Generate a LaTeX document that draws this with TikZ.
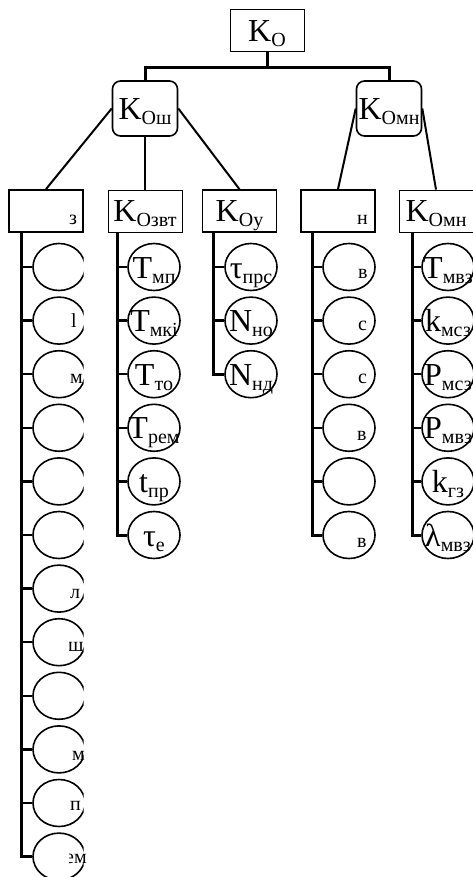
\documentclass[tikz,border=0pt]{standalone}
\usepackage{fontspec}
\setmainfont{Liberation Serif}
\usetikzlibrary{shapes.geometric}
% lowered, smaller index text
\newcommand\sbt[1]{\raisebox{-5pt}{\fontsize{20}{20}\selectfont #1}}
\begin{document}
\begin{tikzpicture}[x=1pt,y=-1pt,
  every node/.style={font=\fontsize{32}{32}\selectfont, inner sep=0pt},
  topbox/.style={draw, line width=1pt, minimum width=74pt, minimum height=42pt, text height=22pt, text depth=0pt},
  midbox/.style={draw, rounded corners=8pt, line width=1.6pt, minimum width=65pt, minimum height=55pt, text height=22pt, text depth=0pt},
  grpbox/.style={draw, minimum width=74pt, minimum height=42pt, text height=22pt, text depth=0pt},
  ell/.style={draw, ellipse, line width=1.6pt, minimum width=52pt, minimum height=47pt},
  lbl/.style={text height=22pt, text depth=0pt},
  frag/.style={font=\fontsize{20}{20}\selectfont, anchor=base west},
  trunk/.style={line width=3pt},
  branch/.style={line width=2pt},
  stem/.style={line width=2.5pt}]
\useasboundingbox (0,0) rectangle (473,877);

% top levels
\node[topbox] (ko) at (267,31) {K\sbt{O}};
\node[midbox] (kosh) at (145,108.5) {K\sbt{Ош}};
\node[midbox] (komn) at (389,108.5) {K\sbt{Омн}};
\coordinate (hub) at (267,68);
\draw[trunk] (ko.south) -- (hub);
\draw[trunk] (kosh.north) -- (kosh.north |- hub) -- (komn.north |- hub) -- (komn.north);

% group boxes
\node[grpbox, line width=1.8pt] (b1) at (46,211) {};
\node[frag] (b1t) at (69,225) {з};
\node[grpbox, line width=0.8pt] (b2) at (145,211) {K\sbt{Озвт}};
\node[grpbox, line width=1.5pt] (b3) at (239.5,211) {K\sbt{Оу}};
\node[grpbox, line width=1.8pt] (b4) at (338,211) {};
\node[frag] (b4t) at (357,225) {н};
\node[grpbox, line width=0.8pt] (b5) at (436,211) {K\sbt{Омн}};

\draw[branch] (kosh.west) -- (b1.north);
\draw[branch] (kosh.south) -- (b2.north);
\draw[branch] (kosh.east) -- (b3.north);
\draw[branch] (komn.west) -- (b4.north);
\draw[branch] (komn.east) -- (b5.north);

% column 1
\begin{scope}
  \clip (0,240) rectangle (83.5,880);
  \foreach \i in {1,...,12} \node[ell] (c1e\i) at (59,{267+53.6*(\i-1)}) {};
\end{scope}
\coordinate (s1) at (21,232);
\draw[trunk] (s1) |- (c1e12.west);
\foreach \i in {1,...,11} \draw[stem] (s1 |- c1e\i.west) -- (c1e\i.west);
\begin{scope}
  \clip (69.5,240) rectangle (95,880);
  \node[frag] (f2) at (71,327) {l};
  \node[frag] (f3) at (70,383) {м};
  \node[frag] (f7) at (70,598) {л};
  \node[frag] (f8) at (68,651) {ш};
  \node[frag] (f10) at (72,760) {м};
  \node[frag] (f11) at (70,810) {п};
  \node[frag] (f12) at (65,863) {ем};
\end{scope}

% column 2
\foreach \i in {1,...,6} \node[ell] (c2e\i) at (154,{267+53.6*(\i-1)}) {};
\coordinate (s2) at (117,232);
\draw[trunk] (s2) |- (c2e6.west);
\foreach \i in {1,...,5} \draw[stem] (s2 |- c2e\i.west) -- (c2e\i.west);
\node[lbl] (c2t1) at (c2e1) {T\sbt{мп}};
\node[lbl] (c2t2) at (c2e2) {T\sbt{мкі}};
\node[lbl] (c2t3) at (c2e3) {T\sbt{то}};
\node[lbl] (c2t4) at (c2e4) {T\sbt{рем}};
\node[lbl] (c2t5) at (c2e5) {t\sbt{пр}};
\node[lbl] (c2t6) at (c2e6) {τ\sbt{е}};

% column 3
\foreach \i in {1,...,3} \node[ell] (c3e\i) at (251,{267+53.6*(\i-1)}) {};
\coordinate (s3) at (213,232);
\draw[trunk] (s3) |- (c3e3.west);
\foreach \i in {1,2} \draw[stem] (s3 |- c3e\i.west) -- (c3e\i.west);
\node[lbl] (c3t1) at (c3e1) {τ\sbt{прс}};
\node[lbl] (c3t2) at (c3e2) {N\sbt{но}};
\node[lbl] (c3t3) at (c3e3) {N\sbt{нд}};

% column 4
\foreach \i in {1,...,6} \node[ell] (c4e\i) at (349,{267+53.6*(\i-1)}) {};
\coordinate (s4) at (312,232);
\draw[trunk] (s4) |- (c4e6.west);
\foreach \i in {1,...,5} \draw[stem] (s4 |- c4e\i.west) -- (c4e\i.west);
\node[frag] (g1) at (358,278) {в};
\node[frag] (g2) at (358,330) {с};
\node[frag] (g3) at (358,383) {с};
\node[frag] (g4) at (357,440) {в};
\node[frag] (g6) at (357,547) {в};

% column 5
\foreach \i in {1,...,6} \node[ell] (c5e\i) at (448,{267+53.6*(\i-1)}) {};
\coordinate (s5) at (412,232);
\draw[trunk] (s5) |- (c5e6.west);
\foreach \i in {1,...,5} \draw[stem] (s5 |- c5e\i.west) -- (c5e\i.west);
\node[lbl] (c5t1) at (c5e1) {T\sbt{мвз}};
\node[lbl] (c5t2) at (c5e2) {k\sbt{мсз}};
\node[lbl] (c5t3) at (c5e3) {P\sbt{мсз}};
\node[lbl] (c5t4) at (c5e4) {P\sbt{мвз}};
\node[lbl] (c5t5) at (c5e5) {k\sbt{гз}};
\node[lbl] (c5t6) at (c5e6) {λ\sbt{мвз}};
\end{tikzpicture}
\end{document}
